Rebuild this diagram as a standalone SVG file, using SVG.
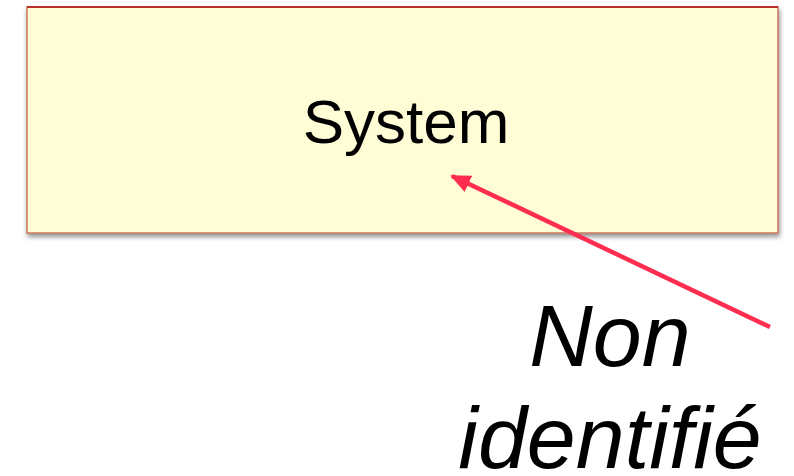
<svg xmlns="http://www.w3.org/2000/svg" width="794" height="476" viewBox="0 0 794 476">
<defs>
<filter id="shadow" x="-5%" y="-10%" width="110%" height="125%">
<feGaussianBlur in="SourceAlpha" stdDeviation="2.5"/>
<feOffset dx="1" dy="3" result="b"/>
<feComponentTransfer><feFuncA type="linear" slope="0.45"/></feComponentTransfer>
<feMerge><feMergeNode/><feMergeNode in="SourceGraphic"/></feMerge>
</filter>
<marker id="arrow" viewBox="0 0 10 10" refX="9" refY="5" markerWidth="4.5" markerHeight="4" markerUnits="strokeWidth" orient="auto" preserveAspectRatio="none">
<path d="M0,0 L10,5 L0,10 z" fill="#ff2d4f"/>
</marker>
</defs>
<style>
.label{font-family:"Liberation Sans",Arial,sans-serif;fill:#000}
.conn{stroke:#ff2d4f;stroke-width:4.5;fill:none}
</style>
<rect width="794" height="476" fill="#ffffff"/>
<g id="system">
<rect x="27" y="7" width="751" height="226" fill="#fffdd5" stroke="#c7755a" stroke-width="1.5" filter="url(#shadow)"/>
<line x1="27" y1="7" x2="778" y2="7" stroke="#b00f0f" stroke-width="1.5"/>
<text class="label" x="406" y="143" font-size="62" text-anchor="middle">System</text>
</g>
<g id="connectors">
<line class="conn" x1="770" y1="327" x2="452" y2="176" marker-end="url(#arrow)"/>
</g>
<g id="non-identifie">
<text class="label" x="610" y="366" font-size="88" font-style="italic" text-anchor="middle">Non</text>
<text class="label" x="610" y="468" font-size="88" font-style="italic" text-anchor="middle">identifié</text>
</g>
</svg>
